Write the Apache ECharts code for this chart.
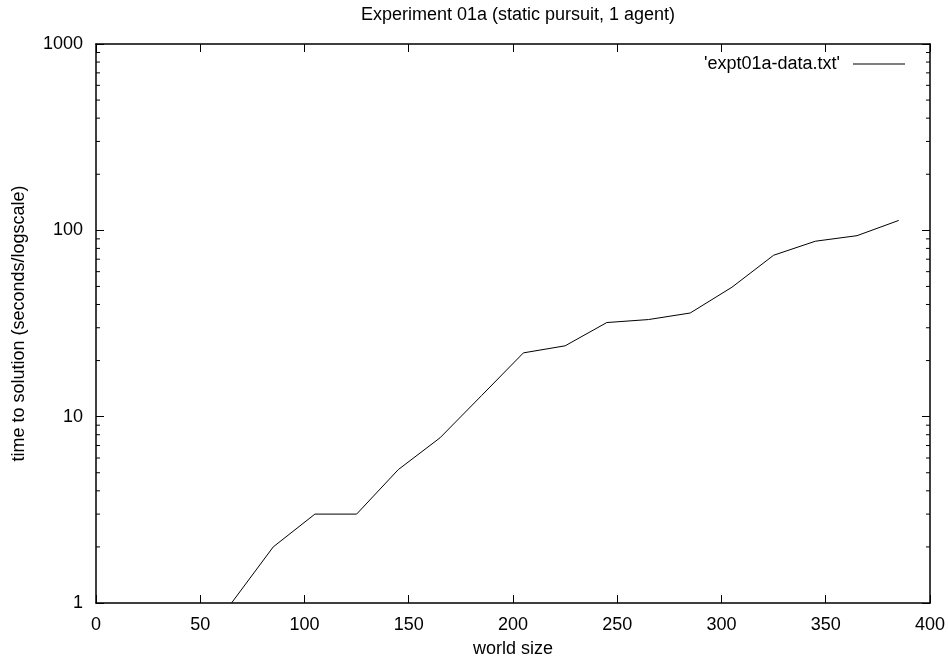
<!DOCTYPE html>
<html>
<head>
<meta charset="utf-8">
<title>Experiment 01a</title>
<script src="https://cdn.jsdelivr.net/npm/echarts@6/dist/echarts.min.js"></script>
<style>
  html, body { margin: 0; padding: 0; background: #fff; }
  #main_container { width: 948px; height: 664px; }
</style>
</head>
<body>
<div id="main_container"></div>
<script>
// world size / time to solution (seconds)
var worldSize = [65, 85, 105, 125, 145, 165, 185, 205, 225, 245, 265, 285, 305, 325, 345, 365, 385];
var solveTime = [1, 2, 3, 3, 5.2, 7.7, 13, 22, 24, 32, 33.2, 36, 49.5, 73.5, 87.4, 93.6, 113];
var yTicks = [1, 10, 100, 1000];
// gnuplot style minor ticks for the log axis
var minorTicks = [2, 3, 4, 5, 6, 7, 8, 9, 20, 30, 40, 50, 60, 70, 80, 90, 200, 300, 400, 500, 600, 700, 800, 900];

var fontName = "Liberation Sans";
var fs = 18;
var myChart = echarts.init(document.getElementById("main_container"));

var axisBase = {
  axisLine: { show: true, onZero: false, lineStyle: { color: "#000", width: 1.5 } },
  axisTick: { show: true, inside: true, length: 8, lineStyle: { color: "#000", width: 1 } },
  splitLine: { show: false },
};

myChart.setOption({
  animation: false,
  textStyle: { fontFamily: fontName, color: "#000" },
  title: {
    text: "Experiment 01a (static pursuit, 1 agent)",
    left: 513,
    top: 1,
    textAlign: "center",
    textStyle: { fontFamily: fontName, fontSize: fs, fontWeight: "normal", color: "#000" },
  },
  legend: {
    data: ["'expt01a-data.txt'"],
    right: 38,
    top: 50,
    align: "right",
    icon: "rect",
    itemWidth: 52,
    itemHeight: 1.2,
    itemStyle: { color: "#000" },
    textStyle: { fontFamily: fontName, fontSize: fs, color: "#000", padding: [0, 8, 0, 0] },
  },
  grid: { left: 96, right: 18, top: 44, bottom: 61 },
  xAxis: [
    Object.assign({}, axisBase, {
      type: "value",
      min: 0,
      max: 400,
      interval: 50,
      name: "world size",
      nameLocation: "middle",
      nameGap: 37,
      nameTextStyle: { fontFamily: fontName, fontSize: fs, color: "#000" },
      axisLabel: { fontFamily: fontName, fontSize: fs, color: "#000", margin: 13 },
    }),
    Object.assign({}, axisBase, {
      type: "value",
      position: "top",
      min: 0,
      max: 400,
      interval: 50,
      axisLabel: { show: false },
    }),
  ],
  yAxis: [
    Object.assign({}, axisBase, {
      type: "log",
      logBase: 10,
      min: yTicks[0],
      max: yTicks[yTicks.length - 1],
      name: "time to solution (seconds/logscale)",
      nameLocation: "middle",
      nameGap: 68,
      nameTextStyle: { fontFamily: fontName, fontSize: fs, color: "#000" },
      axisLabel: {
        fontFamily: fontName,
        fontSize: fs,
        color: "#000",
        margin: 13,
        formatter: function (v) { return String(Math.round(v)); },
      },
    }),
    Object.assign({}, axisBase, {
      type: "log",
      logBase: 10,
      position: "right",
      min: yTicks[0],
      max: yTicks[yTicks.length - 1],
      axisLabel: { show: false },
    }),
  ],
  series: [
    {
      name: "'expt01a-data.txt'",
      type: "line",
      symbol: "none",
      showSymbol: false,
      lineStyle: { color: "#000", width: 1 },
      itemStyle: { color: "#000" },
      data: worldSize.map(function (x, i) { return [x, solveTime[i]]; }),
    },
    {
      name: "minor",
      type: "custom",
      silent: true,
      data: minorTicks.map(function (v) { return [0, v]; }),
      renderItem: function (params, api) {
        var v = api.value(1);
        var l = api.coord([0, v]);
        var r = api.coord([400, v]);
        var st = { stroke: "#000", lineWidth: 1 };
        return {
          type: "group",
          children: [
            { type: "line", shape: { x1: l[0], y1: l[1], x2: l[0] + 4, y2: l[1] }, style: st },
            { type: "line", shape: { x1: r[0] - 4, y1: r[1], x2: r[0], y2: r[1] }, style: st },
          ],
        };
      },
    },
  ],
});
</script>
</body>
</html>
